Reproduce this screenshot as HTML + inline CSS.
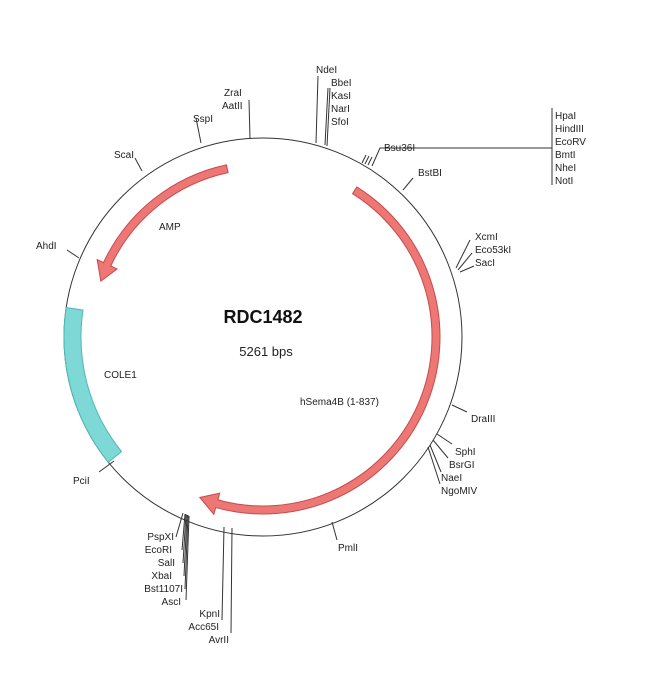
<!DOCTYPE html>
<html><head><meta charset="utf-8"><style>
html,body{margin:0;padding:0;background:#fff;width:650px;height:676px;overflow:hidden}
svg text{font-family:"Liberation Sans",sans-serif;font-size:10px;fill:#222}
</style></head><body>
<svg id="s" width="650" height="676" viewBox="0 0 650 676" xmlns="http://www.w3.org/2000/svg">
<circle cx="263" cy="337" r="199" fill="none" stroke="#333" stroke-width="1"/>
<g id="g"></g>
<g stroke="#333" stroke-width="1" fill="none">
<polyline points="318,76 316,143"/>
<polyline points="328,88 325,145"/>
<polyline points="330,88 327,146"/>
<polyline points="249,100 250,139"/>
<polyline points="196,118 201,143"/>
<polyline points="135,158 142,171"/>
<polyline points="67,250 79,258"/>
<polyline points="99,472 114,461"/>
<polyline points="362,163 366,155"/>
<polyline points="365,164 369,156"/>
<polyline points="368,165 372,157"/>
<polyline points="372,166 380,148 552,148"/>
<polyline points="552,108 552,185"/>
<polyline points="403,190 413,178"/>
<polyline points="456,268 470,240"/>
<polyline points="458,270 472,253"/>
<polyline points="460,272 474,266"/>
<polyline points="452,405 467,412"/>
<polyline points="437,434 452,444"/>
<polyline points="433,440 448,458"/>
<polyline points="430,445 441,472"/>
<polyline points="428,447 440,484"/>
<polyline points="332,522 337,540"/>
<polyline points="224,527 222,620"/>
<polyline points="232,528 231,633"/>
<polyline points="183,513 176,537"/>
<polyline points="185,514 182,550"/>
<polyline points="186,514 183,563"/>
<polyline points="187,515 184,576"/>
<polyline points="188,515 185,589"/>
<polyline points="189,516 186,600"/>
</g>
<text x="316" y="73">NdeI</text>
<text x="331" y="86">BbeI</text>
<text x="331" y="99">KasI</text>
<text x="331" y="112">NarI</text>
<text x="331" y="125">SfoI</text>
<text x="224" y="96">ZraI</text>
<text x="222" y="109">AatII</text>
<text x="193" y="122">SspI</text>
<text x="114" y="158">ScaI</text>
<text x="36" y="249">AhdI</text>
<text x="73" y="484">PciI</text>
<text x="384" y="151">Bsu36I</text>
<text x="555" y="119">HpaI</text>
<text x="555" y="132">HindIII</text>
<text x="555" y="145">EcoRV</text>
<text x="555" y="158">BmtI</text>
<text x="555" y="171">NheI</text>
<text x="555" y="184">NotI</text>
<text x="418" y="176">BstBI</text>
<text x="475" y="240">XcmI</text>
<text x="475" y="253">Eco53kI</text>
<text x="475" y="266">SacI</text>
<text x="471" y="422">DraIII</text>
<text x="455" y="455">SphI</text>
<text x="449" y="468">BsrGI</text>
<text x="441" y="481">NaeI</text>
<text x="441" y="494">NgoMIV</text>
<text x="338" y="551">PmlI</text>
<g text-anchor="end">
<text x="174" y="540">PspXI</text>
<text x="172" y="553">EcoRI</text>
<text x="175" y="566">SalI</text>
<text x="172" y="579">XbaI</text>
<text x="183" y="592">Bst1107I</text>
<text x="181" y="605">AscI</text>
<text x="220" y="617">KpnI</text>
<text x="219" y="630">Acc65I</text>
<text x="229" y="643">AvrII</text>
</g>
<text x="159" y="230" font-size="10">AMP</text>
<text x="104" y="378">COLE1</text>
<text x="300" y="405">hSema4B (1-837)</text>
<text x="263" y="323" text-anchor="middle" style="font-size:18px;font-weight:bold;fill:#111">RDC1482</text>
<text x="266" y="356" text-anchor="middle" style="font-size:13px">5261 bps</text>
</svg>
<script>
var cx=263,cy=337;
function P(r,t){t=t*Math.PI/180;return [cx+r*Math.sin(t),cy-r*Math.cos(t)];}
function arrow(t1,t2,r,w,hw,hl,dir){
 // dir=1 clockwise from t1 to t2 (head at t2)
 var ri=r-w/2,ro=r+w/2,hb=t2-dir*hl;
 var a=P(ro,t1),b=P(ro,hb),c=P(r+hw,hb),d=P(r-0.5,t2),e=P(r-hw,hb),f=P(ri,hb),g=P(ri,t1);
 var lg=Math.abs(hb-t1)>180?1:0,sw1=dir>0?1:0,sw2=dir>0?0:1;
 return "M"+a+" A"+ro+","+ro+" 0 "+lg+" "+sw1+" "+b+" L"+c+" L"+d+" L"+e+" L"+f+" A"+ri+","+ri+" 0 "+lg+" "+sw2+" "+g+" Z";
}
function band(t1,t2,r1,r2){
 var a=P(r2,t1),b=P(r2,t2),c=P(r1,t2),d=P(r1,t1);
 return "M"+a+" A"+r2+","+r2+" 0 0 0 "+b+" L"+c+" A"+r1+","+r1+" 0 0 1 "+d+" Z";
}
var g=document.getElementById("g"),ns="http://www.w3.org/2000/svg";
function add(d,fill,stroke){var p=document.createElementNS(ns,"path");p.setAttribute("d",d);p.setAttribute("fill",fill);p.setAttribute("stroke",stroke);p.setAttribute("stroke-width","1");g.appendChild(p);}
add(arrow(32,201.5,173,8,11,6,1),"#ec7775","#c84a4a");
add(arrow(348,289,172,8,11,6,-1),"#ec7775","#c84a4a");
add(band(278.5,231,182,199),"#7dd8d6","#4fb8b6");
</script>
</body></html>
